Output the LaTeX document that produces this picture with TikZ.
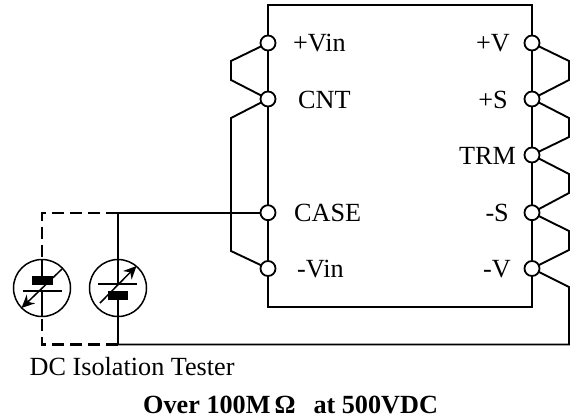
\documentclass[tikz,border=0pt]{standalone}
\usepackage{fontspec}
\setmainfont{Liberation Serif}
\usetikzlibrary{arrows.meta}
\tikzset{
  pinc/.style={circle,draw,fill=white,line width=1.8bp,inner sep=0pt,minimum size=15bp},
  wire/.style={line width=1.9bp,line join=miter},
  testerc/.style={circle,draw,line width=1.5bp,inner sep=0pt,minimum size=57bp},
  lbl/.style={font=\fontsize{26.3}{30}\selectfont,inner sep=0pt,text=black},
  hbar/.style={fill=black,draw=none},
  dashline/.style={line width=2.2bp,dash pattern=on 12bp off 6bp},
  thinl/.style={line width=1.5bp},
  arr/.style={line width=1.5bp,-{Stealth[length=13bp,width=12bp]}}
}
\begin{document}
\begin{tikzpicture}[x=1bp,y=-1bp]
\useasboundingbox (0,0) rectangle (576,419);
\path
 (268,43) coordinate (vinp) (268,99) coordinate (cntp) (268,212.7) coordinate (casep) (268,268.5) coordinate (nvinp)
 (532,43) coordinate (vp) (532,99) coordinate (sp) (532,155) coordinate (trmp) (532,212.7) coordinate (nsp) (532,268.5) coordinate (nvp)
 (118,212.7) coordinate (tt) (118,344.5) coordinate (tb) (42,212.7) coordinate (dt) (42,344.5) coordinate (db);
% module box
\draw[wire] (vinp) -- (268,5) -- (532,5) -- (vp);
\draw[wire] (vinp) -- (nvinp) -- (268,307) -- (532,307) -- (nvp);
\draw[wire] (vp) -- (nvp);
% links
\draw[wire] (vinp) -- (231,61) -- (231,80) -- (cntp);
\draw[wire] (cntp) -- (231,118) -- (231,251) -- (nvinp);
\draw[wire] (vp) -- (569,61) -- (569,80) -- (sp);
\draw[wire] (sp) -- (569,118) -- (569,137) -- (trmp);
\draw[wire] (trmp) -- (569,174) -- (569,193) -- (nsp);
\draw[wire] (nsp) -- (569,231) -- (569,250) -- (nvp);
\draw[wire] (nvp) -- (569,287) -- (569,344.5) -- (tb);
\draw[wire] (casep) -- (tt);
% pin nodes
\node[pinc] (vin) at (vinp) {};
\node[pinc] (cnt) at (cntp) {};
\node[pinc] (case) at (casep) {};
\node[pinc] (nvin) at (nvinp) {};
\node[pinc] (v) at (vp) {};
\node[pinc] (s) at (sp) {};
\node[pinc] (trm) at (trmp) {};
\node[pinc] (ns) at (nsp) {};
\node[pinc] (nv) at (nvp) {};
% tester circles
\node[testerc] (t1) at (42,288) {};
\node[testerc] (t2) at (118,288) {};
% dashed frame
\draw[dashline] (tt) -- (dt) -- (42,259);
\draw[dashline] (tb) -- (db) -- (42,317);
% right tester
\draw[wire] (tt) -- (118,284);
\draw[wire] (118,296) -- (tb);
\draw[thinl] (98,284) -- (137,284);
\fill[hbar] (108,291) rectangle (128,300);
\draw[arr] (100,303) -- (136.5,266);
% left tester
\draw[wire] (42,259) -- (42,280);
\draw[wire] (42,291) -- (42,317);
\draw[thinl] (23,291) -- (62,291);
\fill[hbar] (32,276) rectangle (53,285);
\draw[arr] (62,269) -- (21.5,308);
% labels
\node[lbl,anchor=base west] at (293,51.5) {+Vin};
\node[lbl,anchor=base west] at (298,108) {CNT};
\node[lbl,anchor=base west] at (294,221.5) {CASE};
\node[lbl,anchor=base west] at (297,277) {-Vin};
\node[lbl,anchor=base east] at (510,51.5) {+V};
\node[lbl,anchor=base east] at (508,108) {+S};
\node[lbl,anchor=base east] at (516,164) {TRM};
\node[lbl,anchor=base east] at (509,221.5) {-S};
\node[lbl,anchor=base east] at (511,277) {-V};
\node[lbl,anchor=base west] at (29.5,375) {DC Isolation Tester};
\node[lbl,anchor=base west,font=\fontsize{26.3}{30}\selectfont\bfseries] at (143,413) {Over 100M\hspace{4bp}Ω\hspace{18bp}at 500VDC};
\end{tikzpicture}
\end{document}
